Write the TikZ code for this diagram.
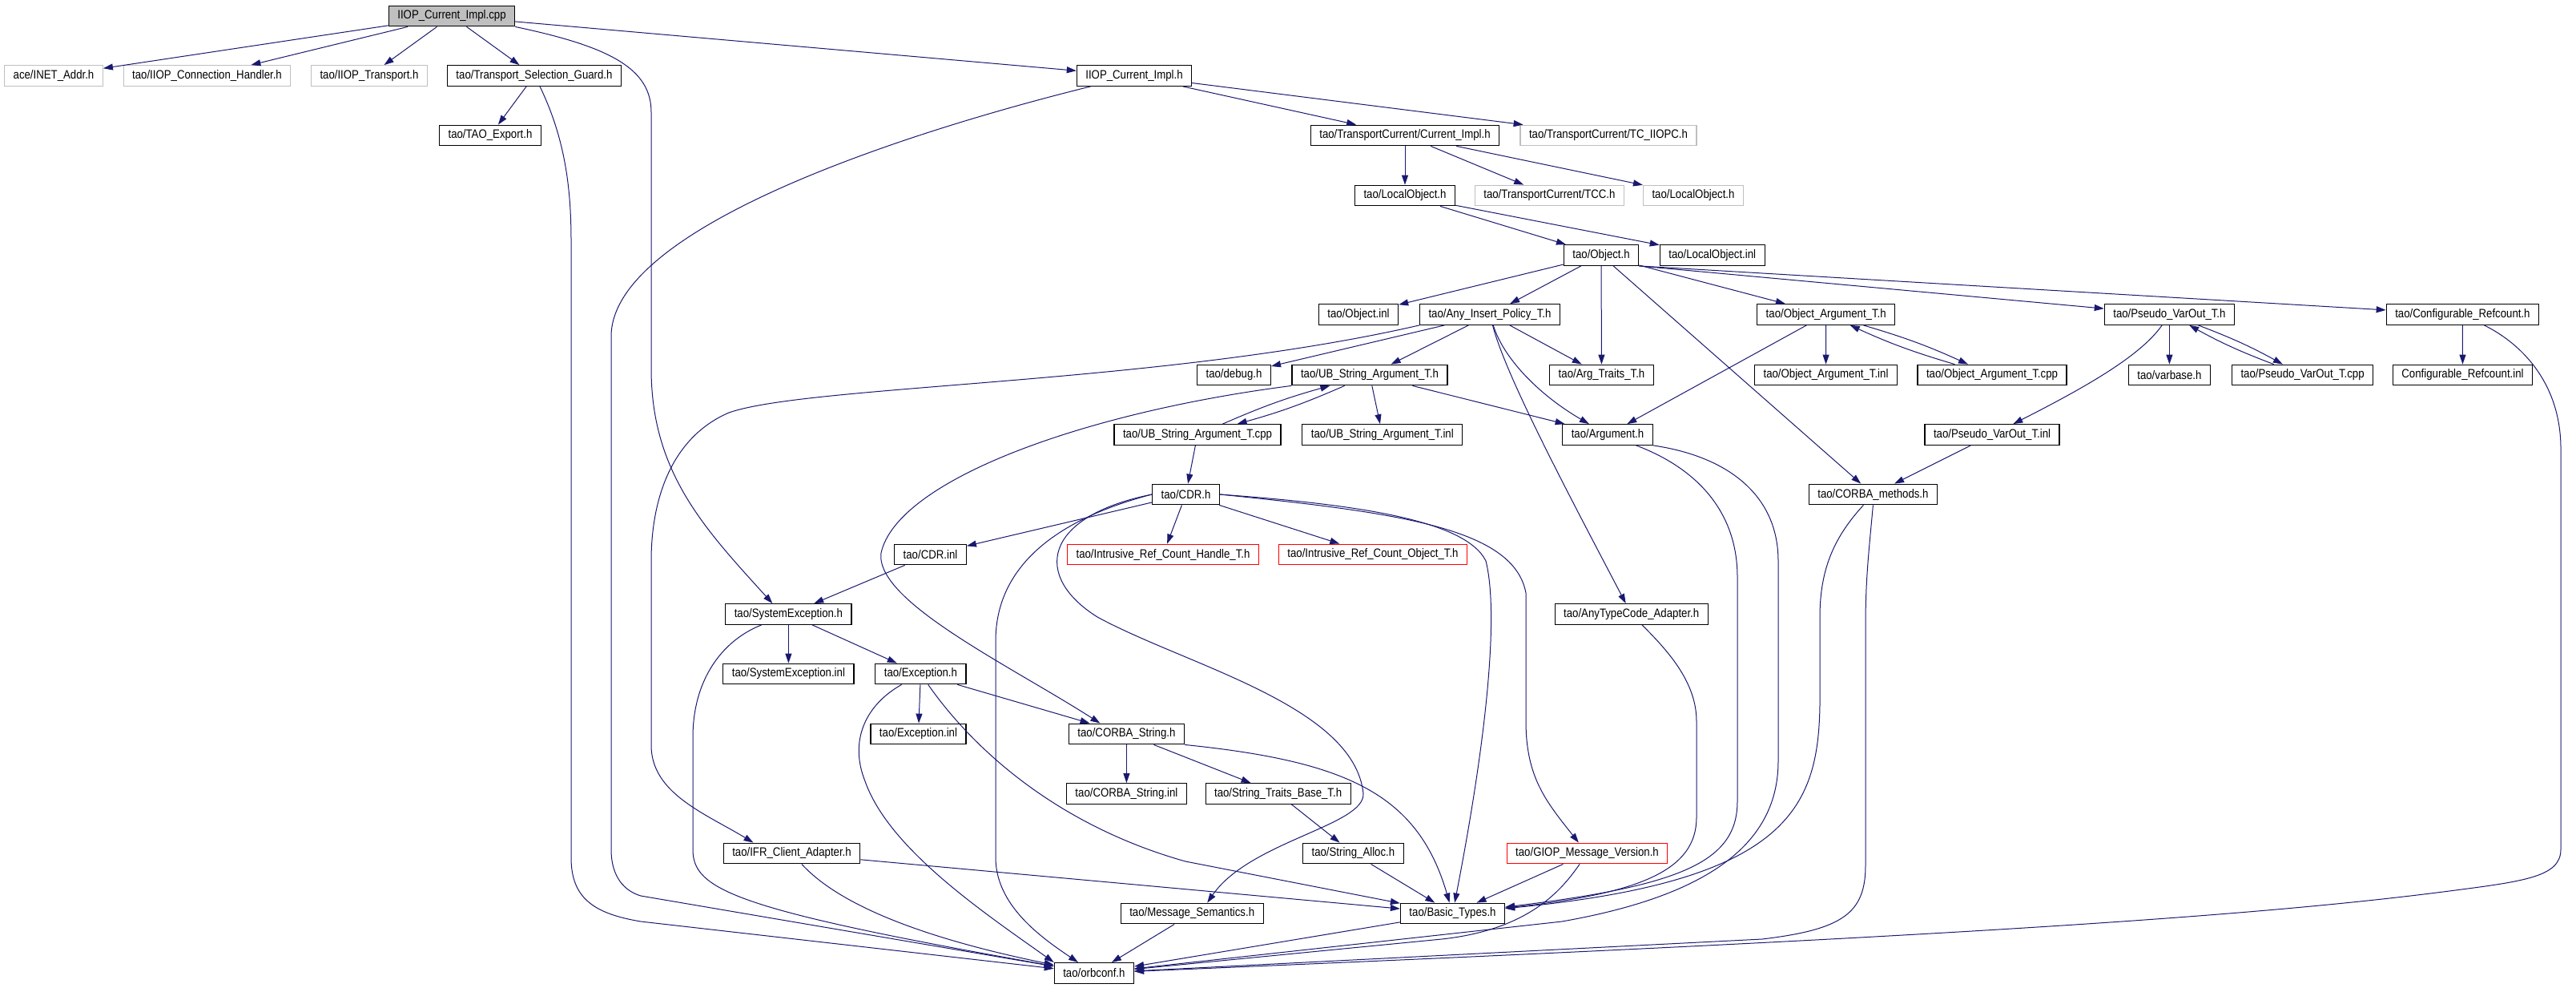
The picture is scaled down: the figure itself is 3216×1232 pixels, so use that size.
\documentclass[tikz,border=0pt]{standalone}
\usepackage{fontspec}
\setmainfont{Liberation Sans}[FakeStretch=0.87]
\usetikzlibrary{arrows.meta}
\definecolor{edgeblue}{HTML}{191970}
\definecolor{nodocgray}{HTML}{BFBFBF}
\begin{document}
\begin{tikzpicture}[x=1pt,y=-1pt]
    \newcommand\mutual[2]{\draw (#1) edge[e,bend left=4] (#2) (#2) edge[e,bend left=4] (#1);}
    \tikzstyle{filebox}=[rectangle,draw=black,line width=1.2pt,minimum height=25.6pt,inner xsep=11pt,inner ysep=1pt,font=\fontsize{15.2}{17}\selectfont]
    \tikzstyle{nodocbox}=[filebox,draw=nodocgray]
    \tikzstyle{truncbox}=[filebox,draw=red]
    \tikzstyle{rootbox}=[filebox,fill=nodocgray]
    \tikzstyle{e}=[color=edgeblue,line width=1pt,-{Triangle[length=12pt,width=8pt]}]
    \useasboundingbox (0,0) rectangle (3216,1232);
    \node[rootbox]  at (564,20)      (cpp)     {IIOP\_Current\_Impl.cpp};
    \node[nodocbox] at (67,94.5)     (inet)    {ace/INET\_Addr.h};
    \node[nodocbox] at (258.5,94.5)  (ich)     {tao/IIOP\_Connection\_Handler.h};
    \node[nodocbox] at (461,94.5)    (itr)     {tao/IIOP\_Transport.h};
    \node[filebox]  at (667,94.5)    (tsg)     {tao/Transport\_Selection\_Guard.h};
    \node[filebox]  at (1416,94.5)   (ih)      {IIOP\_Current\_Impl.h};
    \node[filebox]  at (612,169)     (taoexp)  {tao/TAO\_Export.h};
    \node[filebox]  at (1754,169)    (tcimpl)  {tao/TransportCurrent/Current\_Impl.h};
    \node[nodocbox] at (2008,169)    (tciiopc) {tao/TransportCurrent/TC\_IIOPC.h};
    \node[filebox]  at (1754,244)    (lobj)    {tao/LocalObject.h};
    \node[nodocbox] at (1934.4,244)  (tcc)     {tao/TransportCurrent/TCC.h};
    \node[nodocbox] at (2114,244)    (lobjg)   {tao/LocalObject.h};
    \node[filebox]  at (1999,318.5)  (obj)     {tao/Object.h};
    \node[filebox]  at (2137.7,318.5) (lobji)  {tao/LocalObject.inl};
    \node[filebox]  at (1696,392.5)  (obji)    {tao/Object.inl};
    \node[filebox]  at (1860,392.5)  (aip)     {tao/Any\_Insert\_Policy\_T.h};
    \node[filebox]  at (2279.7,392.5) (oat)    {tao/Object\_Argument\_T.h};
    \node[filebox]  at (2708.4,392.5) (pvo)    {tao/Pseudo\_VarOut\_T.h};
    \node[filebox]  at (3074.4,392.5) (cr)     {tao/Configurable\_Refcount.h};
    \node[filebox]  at (1540.5,468)  (dbg)     {tao/debug.h};
    \node[filebox]  at (1710,468)    (ubh)     {tao/UB\_String\_Argument\_T.h};
    \node[filebox]  at (1999.5,468)  (argt)    {tao/Arg\_Traits\_T.h};
    \node[filebox]  at (2279.5,468)  (oati)    {tao/Object\_Argument\_T.inl};
    \node[filebox]  at (2487,468)    (oac)     {tao/Object\_Argument\_T.cpp};
    \node[filebox]  at (2708.4,468)  (vb)      {tao/varbase.h};
    \node[filebox]  at (2874.6,468)  (pvoc)    {tao/Pseudo\_VarOut\_T.cpp};
    \node[filebox]  at (3074.5,468)  (cri)     {Configurable\_Refcount.inl};
    \node[filebox]  at (1495,542.5)  (ubc)     {tao/UB\_String\_Argument\_T.cpp};
    \node[filebox]  at (1725.8,542.5) (ubi)    {tao/UB\_String\_Argument\_T.inl};
    \node[filebox]  at (2007,542.5)  (arg)     {tao/Argument.h};
    \node[filebox]  at (2487,542.5)  (pvoi)    {tao/Pseudo\_VarOut\_T.inl};
    \node[filebox]  at (1480.5,617)  (cdr)     {tao/CDR.h};
    \node[filebox]  at (2338.4,617)  (cm)      {tao/CORBA\_methods.h};
    \node[filebox]  at (1161.5,692)  (cdri)    {tao/CDR.inl};
    \node[truncbox] at (1452,692)    (irch)    {tao/Intrusive\_Ref\_Count\_Handle\_T.h};
    \node[truncbox] at (1714,692)    (irco)    {tao/Intrusive\_Ref\_Count\_Object\_T.h};
    \node[filebox]  at (984.4,766.5) (sysex)   {tao/SystemException.h};
    \node[filebox]  at (2036.7,766.5) (atc)    {tao/AnyTypeCode\_Adapter.h};
    \node[filebox]  at (984.4,841)   (sysexi)  {tao/SystemException.inl};
    \node[filebox]  at (1149.4,841)  (exh)     {tao/Exception.h};
    \node[filebox]  at (1146.5,916)  (exi)     {tao/Exception.inl};
    \node[filebox]  at (1406.4,916)  (cs)      {tao/CORBA\_String.h};
    \node[filebox]  at (1406.4,990.5) (csi)    {tao/CORBA\_String.inl};
    \node[filebox]  at (1595.6,990.5) (stbt)   {tao/String\_Traits\_Base\_T.h};
    \node[filebox]  at (988.5,1065)  (ifr)     {tao/IFR\_Client\_Adapter.h};
    \node[filebox]  at (1689.4,1065) (sa)      {tao/String\_Alloc.h};
    \node[truncbox] at (1981.5,1065) (giop)    {tao/GIOP\_Message\_Version.h};
    \node[filebox]  at (1488.2,1140) (ms)      {tao/Message\_Semantics.h};
    \node[filebox]  at (1813.5,1140) (bt)      {tao/Basic\_Types.h};
    \node[filebox]  at (1365.9,1214.4) (orbconf) {tao/orbconf.h};
    % includes of the .cpp
    \draw[e] (cpp) -- (inet);
    \draw[e] (cpp) -- (ich);
    \draw[e] (cpp) -- (itr);
    \draw[e] (cpp) -- (tsg);
    \draw[e] (cpp) -- (ih);
    \draw[e] (cpp.south east) .. controls (760,58) and (813,85) .. (813,140) -- (813,460) .. controls (813,590) and (880,660) .. ([xshift=-20]sysex.north);
    \draw[e] (tsg) -- (taoexp);
    \draw[e] ([xshift=7]tsg.south) .. controls (704,170) and (713,230) .. (713,300) -- (713,1070) .. controls (713,1120) and (740,1140) .. (800,1150) -- (orbconf);
    % IIOP_Current_Impl.h
    \draw[e] (ih) -- (tcimpl);
    \draw[e] (ih) -- (tciiopc);
    \draw[e] (ih) .. controls (1150,160) and (763,280) .. (763,420) -- (763,1060) .. controls (763,1095) and (780,1112) .. (800,1118) -- (orbconf);
    \draw[e] (tcimpl) -- (lobj);
    \draw[e] (tcimpl) -- (tcc);
    \draw[e] (tcimpl) -- (lobjg);
    \draw[e] (lobj) -- (obj);
    \draw[e] (lobj) -- (lobji);
    % tao/Object.h
    \draw[e] (obj) -- (obji);
    \draw[e] (obj) -- (aip);
    \draw[e] (obj) -- (argt);
    \draw[e] (obj) -- (cm);
    \draw[e] (obj) -- (oat);
    \draw[e] (obj.south east) -- (pvo);
    \draw[e] (obj.south east) -- (cr);
    % Any_Insert_Policy_T.h
    \draw[e] (aip) -- (dbg);
    \draw[e] (aip) -- (ubh);
    \draw[e] (aip) -- (argt);
    \draw[e] (aip) .. controls (1878,450) and (1925,495) .. (arg);
    \draw[e] (aip) .. controls (1880,470) and (1960,620) .. (atc);
    \draw[e] (aip.south west) .. controls (1450,480) and (1010,480) .. (910,515) .. controls (840,545) and (813,620) .. (813,700) -- (813,930) .. controls (813,990) and (880,1015) .. ([xshift=-48]ifr.north);
    \mutual{ubh}{ubc} % include croise
    \draw[e] (ubh) -- (ubi);
    \draw[e] (ubh) -- (arg);
    \draw[e] (ubh.south west) .. controls (1350,515) and (1120,600) .. (1100,690) .. controls (1092,750) and (1260,830) .. ([xshift=-33]cs.north);
    \draw[e] (ubc) -- (cdr);
    \mutual{oat}{oac} % include croise
    \draw[e] (oat) -- (oati);
    \draw[e] (oat) -- (arg);
    \mutual{pvo}{pvoc} % include croise
    \draw[e] (pvo) -- (vb);
    \draw[e] (pvo) .. controls (2672,445) and (2600,485) .. (pvoi);
    \draw[e] (pvoi) -- (cm);
    \draw[e] (cr) -- (cri);
    \draw[e] (cr) .. controls (3150,430) and (3197,480) .. (3197,560) -- (3197,1060) .. controls (3197,1095) and (3150,1100) .. (3050,1113) .. controls (2800,1145) and (2400,1171) .. (orbconf);
    % right hand side down to Basic_Types.h and orbconf.h
    \draw[e] (arg) .. controls (2120,585) and (2169,640) .. (2169,720) -- (2169,1000) .. controls (2169,1075) and (2100,1105) .. (bt);
    \draw[e] (arg.south east) .. controls (2160,570) and (2220,620) .. (2220,700) -- (2220,950) .. controls (2220,1060) and (2120,1120) .. (1950,1150) -- (orbconf);
    \draw[e] ([xshift=-12]cm.south) .. controls (2290,670) and (2272,710) .. (2272,770) -- (2272,880) .. controls (2270,1010) and (2230,1100) .. (bt);
    \draw[e] (cm.south) .. controls (2334,680) and (2329,720) .. (2329,780) -- (2329,1080) .. controls (2329,1140) and (2300,1160) .. (2200,1172) -- (orbconf);
    \draw[e] (atc) .. controls (2080,810) and (2118,850) .. (2118,900) -- (2118,1020) .. controls (2118,1085) and (2050,1115) .. (bt);
    % tao/CDR.h
    \draw[e] (cdr) -- (cdri);
    \draw[e] (cdr) -- (irch);
    \draw[e] (cdr) -- (irco);
    \draw[e] (cdr.west) .. controls (1330,645) and (1243,700) .. (1243,800) -- (1243,1070) .. controls (1243,1130) and (1300,1170) .. (orbconf);
    \draw[e] (cdr.west) .. controls (1300,645) and (1290,720) .. (1370,770) .. controls (1480,830) and (1690,880) .. (1702,990) .. controls (1705,1030) and (1560,1050) .. ([xshift=19]ms.north);
    \draw[e] (cdr.east) .. controls (1700,630) and (1830,650) .. (1855,700) .. controls (1870,760) and (1860,900) .. (bt);
    \draw[e] (cdr.east) .. controls (1750,640) and (1890,660) .. (1905,740) -- (1905,900) .. controls (1905,970) and (1930,1000) .. (giop);
    \draw[e] (cdri) -- (sysex);
    % exceptions
    \draw[e] (sysex) -- (sysexi);
    \draw[e] (sysex) -- (exh);
    \draw[e] (sysex) .. controls (900,800) and (865,850) .. (865,920) -- (865,1060) .. controls (865,1110) and (915,1135) .. (orbconf);
    \draw[e] (exh) -- (exi);
    \draw[e] (exh) -- (cs);
    \draw[e] (exh) .. controls (1080,880) and (1060,925) .. (1080,975) .. controls (1110,1060) and (1230,1140) .. (orbconf.north west);
    \draw[e] (exh) .. controls (1215,935) and (1320,1030) .. (1480,1075) -- (bt);
    \draw[e] (cs) -- (csi);
    \draw[e] (cs) -- (stbt);
    \draw[e] (cs.south east) .. controls (1680,950) and (1770,990) .. (bt);
    \draw[e] (stbt) -- (sa);
    \draw[e] (sa) -- (bt);
    % bottom
    \draw[e] (ifr) -- (bt);
    \draw[e] (ifr) .. controls (1030,1110) and (1100,1160) .. (orbconf);
    \draw[e] (giop) -- (bt);
    \draw[e] (giop) .. controls (1950,1110) and (1910,1160) .. (1800,1172) -- (orbconf);
    \draw[e] (ms) -- (orbconf);
    \draw[e] (bt) -- (orbconf);
\end{tikzpicture}
\end{document}
